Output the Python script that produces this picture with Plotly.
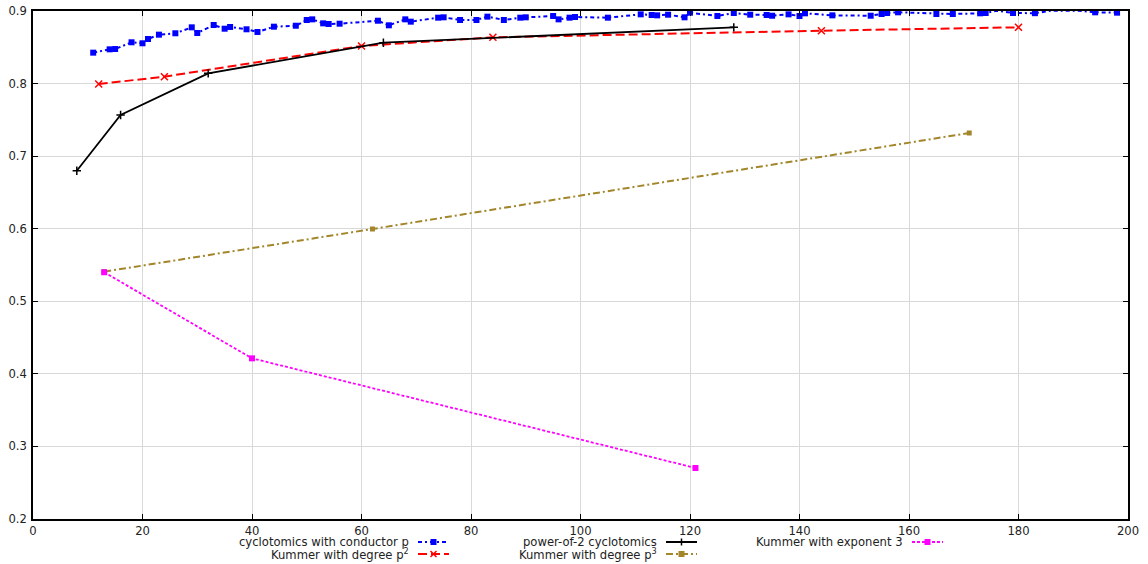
import plotly.graph_objects as go

# ---- data -------------------------------------------------------------
# cyclotomic fields of prime conductor p, plotted against (p-1)/2
cyclo_x = [11, 14, 15, 18, 20, 21, 23, 26, 29, 30, 33, 35, 36, 39, 41, 44,
           48, 50, 51, 53, 54, 56, 63, 65, 68, 69, 74, 75, 78, 81, 83, 86,
           89, 90, 95, 96, 98, 99, 105, 111, 113, 114, 116, 119, 120, 125,
           128, 131, 134, 135, 138, 140, 141, 146, 153, 155, 156, 158, 165,
           168, 173, 174, 176, 179, 183, 186, 189, 191, 194, 198]
cyclo_y = [0.8426, 0.8472, 0.8476, 0.8569, 0.8555, 0.8614, 0.8674, 0.8693,
           0.8775, 0.8697, 0.8807, 0.8756, 0.8780, 0.8748, 0.8711, 0.8784,
           0.8797, 0.8876, 0.8885, 0.8830, 0.8821, 0.8825, 0.8866, 0.8803,
           0.8885, 0.8853, 0.8908, 0.8913, 0.8876, 0.8876, 0.8922, 0.8876,
           0.8908, 0.8913, 0.8931, 0.8885, 0.8908, 0.8917, 0.8908, 0.8954,
           0.8945, 0.8940, 0.8949, 0.8913, 0.8977, 0.8931, 0.8972, 0.8949,
           0.8945, 0.8935, 0.8954, 0.8931, 0.8968, 0.8940, 0.8935, 0.8959,
           0.8972, 0.8982, 0.8959, 0.8959, 0.8968, 0.8972, 0.9004, 0.8972,
           0.8970, 0.9004, 0.9004, 0.9004, 0.8982, 0.8977]

pow2_x = [8, 16, 32, 64, 128]
pow2_y = [0.6799, 0.7567, 0.8141, 0.8563, 0.8775]

kummer_p2_x = [12, 24, 60, 84, 144, 180]
kummer_p2_y = [0.7994, 0.8095, 0.8518, 0.8637, 0.8729, 0.8775]

kummer_p3_x = [13, 62, 171]
kummer_p3_y = [0.5408, 0.5996, 0.7319]

kummer_e3_x = [13, 40, 121]
kummer_e3_y = [0.5400, 0.4214, 0.2703]

x_ticks = [0, 20, 40, 60, 80, 100, 120, 140, 160, 180, 200]
y_ticks = [0.2, 0.3, 0.4, 0.5, 0.6, 0.7, 0.8, 0.9]

BLUE = "#0000ff"
RED = "#ff0000"
BLACK = "#000000"
OLIVE = "#a3862b"
MAGENTA = "#ff00ff"
FONT = "DejaVu Sans"

fig = go.Figure()

fig.add_trace(go.Scatter(
    x=cyclo_x, y=cyclo_y, mode="lines+markers", cliponaxis=False,
    line=dict(color=BLUE, width=2, dash="4px,3px,2px,3px"),
    marker=dict(symbol="square", size=6, color=BLUE),
    name="cyclotomics with conductor p"))
fig.add_trace(go.Scatter(
    x=kummer_p2_x, y=kummer_p2_y, mode="lines+markers", cliponaxis=False,
    line=dict(color=RED, width=2, dash="9px,4px"),
    marker=dict(symbol="x-thin", size=7, line=dict(color=RED, width=1.5)),
    name="Kummer with degree p²"))
fig.add_trace(go.Scatter(
    x=pow2_x, y=pow2_y, mode="lines+markers", cliponaxis=False,
    line=dict(color=BLACK, width=1.8),
    marker=dict(symbol="cross-thin", size=6, line=dict(color=BLACK, width=1.5)),
    name="power-of-2 cyclotomics"))
fig.add_trace(go.Scatter(
    x=kummer_p3_x, y=kummer_p3_y, mode="lines+markers", cliponaxis=False,
    line=dict(color=OLIVE, width=2, dash="7px,3px,2px,3px"),
    marker=dict(symbol="square", size=5, color=OLIVE),
    name="Kummer with degree p³"))
fig.add_trace(go.Scatter(
    x=kummer_e3_x, y=kummer_e3_y, mode="lines+markers", cliponaxis=False,
    line=dict(color=MAGENTA, width=1.8, dash="3px,2px"),
    marker=dict(symbol="square", size=6, color=MAGENTA),
    name="Kummer with exponent 3"))

# ---- key below the plot: label text right-aligned, sample to its right --
L, R, T, B = 33, 20, 11, 45
W, H = 1148 - L - R, 564 - T - B


def px_x(px):
    return (px - L) / W


def px_y(py):
    return (564 - B - py) / H


key = [
    ("cyclotomics with conductor p", BLUE, "4px,3px,2px,3px", "square", 411, 542),
    ("power-of-2 cyclotomics", BLACK, "solid", "plus", 659, 542),
    ("Kummer with exponent 3", MAGENTA, "3px,2px", "square", 905, 542),
    ("Kummer with degree p<sup>2</sup>", RED, "9px,4px", "x", 411, 554),
    ("Kummer with degree p<sup>3</sup>", OLIVE, "7px,3px,2px,3px", "square", 659, 554),
]
shapes = []
annotations = []
for text, color, dash, sym, xr, yc in key:
    annotations.append(dict(
        x=px_x(xr), y=px_y(yc), xref="paper", yref="paper", text=text,
        showarrow=False, xanchor="right", yanchor="middle",
        font=dict(family=FONT, size=11.6, color="#222222")))
    x0, x1 = xr + 7, xr + 38
    shapes.append(dict(type="line", xref="paper", yref="paper",
                       x0=px_x(x0), x1=px_x(x1), y0=px_y(yc), y1=px_y(yc),
                       line=dict(color=color, width=2, dash=dash)))
    cx = (x0 + x1) / 2
    if sym == "square":
        shapes.append(dict(type="rect", xref="paper", yref="paper",
                           x0=px_x(cx - 3), x1=px_x(cx + 3),
                           y0=px_y(yc + 3), y1=px_y(yc - 3),
                           fillcolor=color, line=dict(width=0)))
    elif sym == "plus":
        shapes.append(dict(type="line", xref="paper", yref="paper",
                           x0=px_x(cx), x1=px_x(cx),
                           y0=px_y(yc + 3.5), y1=px_y(yc - 3.5),
                           line=dict(color=color, width=1.5)))
    elif sym == "x":
        for s in (1, -1):
            shapes.append(dict(type="line", xref="paper", yref="paper",
                               x0=px_x(cx - 3), x1=px_x(cx + 3),
                               y0=px_y(yc + 3 * s), y1=px_y(yc - 3 * s),
                               line=dict(color=color, width=1.5)))

axis_common = dict(
    showline=True, linecolor="black", linewidth=1.5, mirror="allticks",
    ticks="inside", ticklen=5, tickwidth=1, tickcolor="black",
    showgrid=True, gridcolor="#d9d9d9", gridwidth=1, zeroline=False,
    automargin=False,
    tickfont=dict(family=FONT, size=11.6, color="#222222"),
)

fig.update_layout(
    width=1148, height=564,
    margin=dict(l=L, r=R, t=T, b=B),
    paper_bgcolor="white", plot_bgcolor="white",
    showlegend=False,
    xaxis=dict(range=[0, 200], tickvals=x_ticks, ticklabelstandoff=0,
               **axis_common),
    yaxis=dict(range=[0.2, 0.9], tickvals=y_ticks, tickformat=".1f",
               ticklabelstandoff=2, **axis_common),
    shapes=shapes, annotations=annotations,
)

fig.write_html("out.html")
